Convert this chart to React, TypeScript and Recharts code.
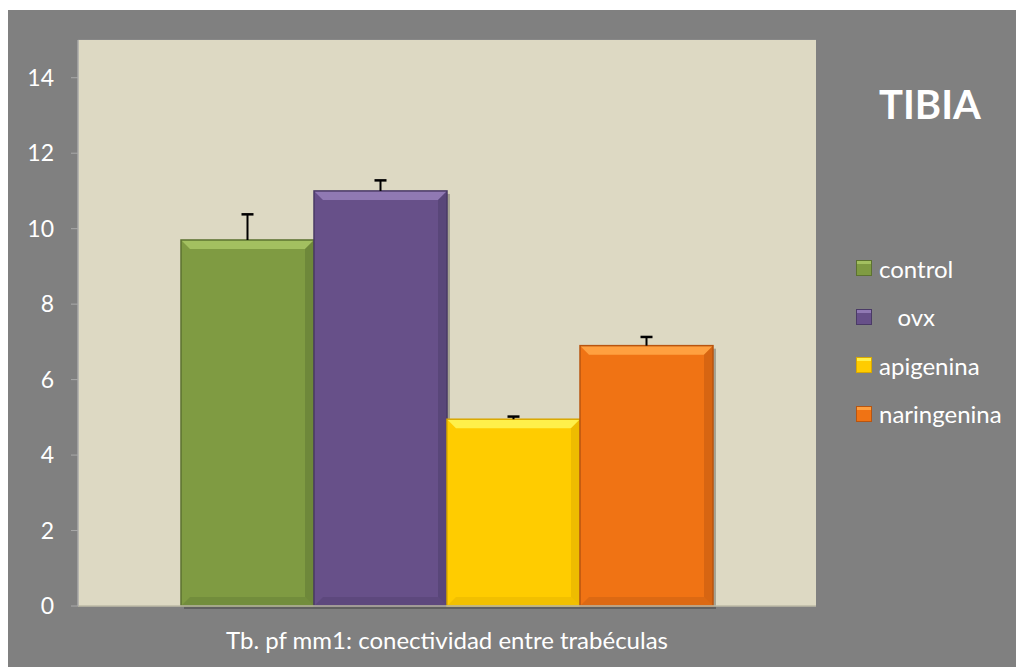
import React from "react";
import {
  BarChart,
  Bar,
  XAxis,
  YAxis,
  CartesianGrid,
  Legend,
} from "recharts";

const category = "Tb. pf mm1: conectividad entre trabéculas";
const groups = ["control", "ovx", "apigenina", "naringenina"];
const legendLabels = ["control", "   ovx", "apigenina", "naringenina"];
const means = [9.7, 11.0, 4.95, 6.9];
const errors = [0.68, 0.28, 0.07, 0.23];
const yTicks = [0, 2, 4, 6, 8, 10, 12, 14];

const colors = ["#7f9b42", "#675089", "#ffcc00", "#f07314"];
const lightColors = ["#a3c060", "#9079b3", "#fff04a", "#ffa040"];
const darkColors = ["#5c7230", "#4a3a66", "#d9a800", "#b85510"];

const FONT = "Lato, 'Open Sans', sans-serif";

const row: Record<string, string | number> = { name: category };
groups.forEach((g, i) => {
  row[g] = means[i];
});
const data = [row];

function makeShape(i: number) {
  return (props: any) => {
    const { x, y, width, height } = props;
    const b = 9;
    const perUnit = height / means[i];
    const errPx = errors[i] * perUnit;
    const cx = x + width / 2;
    return (
      <g>
        <rect x={x + 3} y={y + 3} width={width} height={height} fill="rgba(0,0,0,0.25)" />
        <rect x={x} y={y} width={width} height={height} fill={colors[i]} />
        <polygon
          points={`${x},${y} ${x + width},${y} ${x + width - b},${y + b} ${x + b},${y + b}`}
          fill={lightColors[i]}
        />
        <polygon
          points={`${x + width},${y} ${x + width},${y + height} ${x + width - b},${y + height - b} ${x + width - b},${y + b}`}
          fill={darkColors[i]}
          opacity={0.45}
        />
        <polygon
          points={`${x},${y + height} ${x + width},${y + height} ${x + width - b},${y + height - b} ${x + b},${y + height - b}`}
          fill={darkColors[i]}
          opacity={0.35}
        />
        <rect x={x} y={y} width={width} height={height} fill="none" stroke={darkColors[i]} strokeWidth={1.5} />
        <line x1={cx} y1={y} x2={cx} y2={y - errPx} stroke="#000" strokeWidth={2} />
        <line x1={cx - 6} y1={y - errPx} x2={cx + 6} y2={y - errPx} stroke="#000" strokeWidth={2.5} />
      </g>
    );
  };
}

function renderLegend() {
  return (
    <div style={{ fontFamily: FONT, color: "#fff", fontSize: 24 }}>
      {groups.map((g, i) => (
        <div key={g} style={{ display: "flex", alignItems: "center", height: 48.5 }}>
          <span
            style={{
              display: "inline-block",
              width: 14,
              height: 14,
              background: colors[i],
              border: `1px solid ${darkColors[i]}`,
              boxShadow: `inset 0 3px 0 ${lightColors[i]}`,
              marginRight: 7,
            }}
          />
          <span style={{ whiteSpace: "pre" }}>{legendLabels[i]}</span>
        </div>
      ))}
    </div>
  );
}

function CategoryTick(props: any) {
  const { x, y, payload } = props;
  return (
    <text x={x} y={y + 35} textAnchor="middle" fill="#fff" fontSize={24} fontFamily={FONT}>
      {payload.value}
    </text>
  );
}

export default function App() {
  return (
    <div
      style={{
        position: "relative",
        marginTop: 2,
        width: 1016,
        height: 657,
        background: "#808080",
      }}
    >
      <div
        style={{
          position: "absolute",
          left: 871,
          top: 70,
          color: "#fff",
          fontFamily: FONT,
          fontWeight: 700,
          fontSize: 40,
        }}
      >
        TIBIA
      </div>
      <BarChart
        width={1016}
        height={657}
        data={data}
        margin={{ top: 30, right: 208, bottom: 0, left: 0 }}
        barCategoryGap={103}
        barGap={0}
      >
        <rect x={70} y={30} width={738} height={566} fill="#ddd9c3" />
        <CartesianGrid horizontal vertical={false} stroke="#8a8a8a" strokeWidth={1.5} />
        <XAxis
          dataKey="name"
          height={61}
          axisLine={{ stroke: "#bdbaa6", strokeWidth: 1.5 }}
          tickLine={false}
          tick={<CategoryTick />}
        />
        <YAxis
          width={70}
          domain={[0, 15]}
          ticks={yTicks}
          axisLine={{ stroke: "#a9a9a9", strokeWidth: 1.5 }}
          tickLine={{ stroke: "#a9a9a9" }}
          tickSize={7}
          tick={{ fill: "#fff", fontSize: 23, fontFamily: FONT }}
          tickMargin={17}
        />
        {groups.map((g, i) => (
          <Bar
            key={g}
            dataKey={g}
            name={g}
            fill={colors[i]}
            shape={makeShape(i)}
            isAnimationActive={false}
          />
        ))}
        <Legend
          layout="vertical"
          align="center"
          verticalAlign="middle"
          content={renderLegend}
          wrapperStyle={{ left: 848, top: 234, width: 168 }}
        />
      </BarChart>
    </div>
  );
}
